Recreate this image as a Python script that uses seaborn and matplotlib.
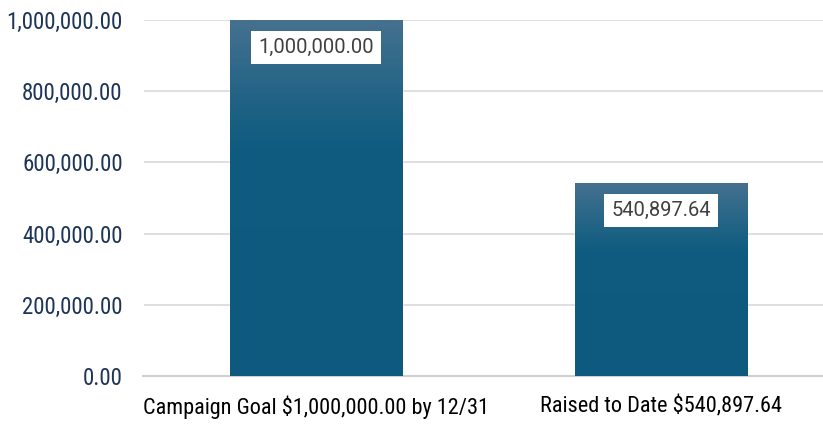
import numpy as np
import pandas as pd
import matplotlib
matplotlib.use("Agg")
import matplotlib.pyplot as plt
import matplotlib.ticker as mticker
from matplotlib.colors import LinearSegmentedColormap
import seaborn as sns

categories = ["Campaign Goal $1,000,000.00 by 12/31", "Raised to Date $540,897.64"]
values = [1000000.00, 540897.64]
ytick_values = [0, 200000, 400000, 600000, 800000, 1000000]

df = pd.DataFrame({"label": categories, "amount": values})

sns.set_style("white")
plt.rcParams["font.family"] = ["Roboto Condensed", "DejaVu Sans"]

fig = plt.figure(figsize=(8.23, 4.24), dpi=100)
ax = fig.add_axes([143.5 / 823, 0.1132, 690 / 823, 0.8396])

sns.barplot(data=df, x="label", y="amount", color="#0d5a7e", width=0.5, ax=ax, zorder=2)

# gradient fill, clipped to each bar
grad = LinearSegmentedColormap.from_list("g", ["#0d5a7e", "#0f5c80", "#45718f"])
for p in ax.patches:
    x0, y0 = p.get_x(), p.get_y()
    w, h = p.get_width(), p.get_height()
    arr = np.linspace(0, 1, 256).reshape(-1, 1) ** 1.6
    im = ax.imshow(arr, extent=[x0, x0 + w, y0, y0 + h], origin="lower",
                   cmap=grad, aspect="auto", zorder=3)
    im.set_clip_path(p)

for p, v in zip(ax.patches, values):
    ax.annotate(f"{v:,.2f}", (p.get_x() + p.get_width() / 2, p.get_height()),
                xytext=(0, -19.5), textcoords="offset points", ha="center", va="center",
                fontsize=14.5, color="#404040", family=["Roboto", "DejaVu Sans"], zorder=5,
                bbox=dict(boxstyle="square,pad=0.35", fc="white", ec="none"))

ax.set_xlim(-0.5, 1.5)
ax.set_ylim(0, 1000000)
ax.set_yticks(ytick_values)
ax.yaxis.set_major_formatter(mticker.FuncFormatter(lambda v, _: f"{v:,.2f}"))
ax.grid(axis="y", color="#d9d9d9", linewidth=1.2, zorder=0)
ax.set_axisbelow(True)
for s in ["top", "right", "left"]:
    ax.spines[s].set_visible(False)
ax.spines["bottom"].set_color("#d0d0d0")
ax.spines["bottom"].set_linewidth(1.5)
ax.tick_params(axis="y", length=0, pad=15, labelsize=16.5, labelcolor="#1d3557")
ax.tick_params(axis="x", length=0, pad=14, labelsize=16, labelcolor="#000000")
ax.set_xlabel("")
ax.set_ylabel("")

fig.savefig("out.png", dpi=100)
